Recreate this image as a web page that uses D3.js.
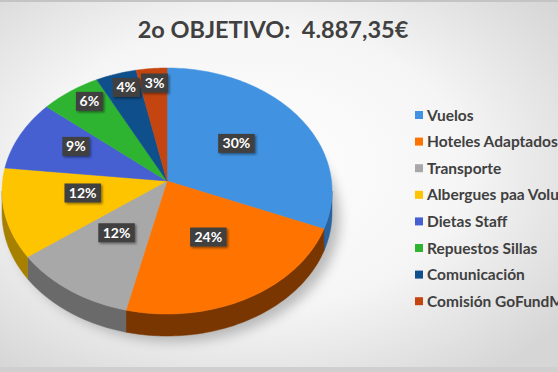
<!DOCTYPE html>
<html>
<head>
<meta charset="utf-8">
<script src="https://cdn.jsdelivr.net/npm/d3@7"></script>
<style>
  html, body { margin: 0; padding: 0; background: #fff; }
  #chart { width: 558px; height: 372px; overflow: hidden; }
  text { font-family: Lato, "Open Sans", sans-serif; }
</style>
</head>
<body>
<div id="chart"></div>
<script>
(function () {
  ///////////////////////////////////////////////////////////// ! Data
  const categories = [
    "Vuelos",
    "Hoteles Adaptados",
    "Transporte",
    "Albergues paa Voluntarios",
    "Dietas Staff",
    "Repuestos Sillas",
    "Comunicación",
    "Comisión GoFundMe",
  ];
  const percents = [30, 24, 12, 12, 9, 6, 4, 3];
  const topColors = ["#4192e0", "#ff7400", "#a8a8a8", "#ffc400", "#4660d2", "#2fb432", "#0f4f8c", "#c4450f"];
  const sideColors = ["#2a62a0", "#7a3600", "#6a6a6a", "#a88000", "#2c3d8c", "#1d7420", "#08325a", "#7a2a08"];
  const title = "2o OBJETIVO:  4.887,35€";

  ///////////////////////////////////////////////////////////// ! Setup
  const W = 558, H = 372;
  const cx = 167, cy = 191, rx = 165, ry = 123; // ellipse of the top face
  const apexY = 181; // where slices meet (perspective)
  const depth = 22;

  const svg = d3.select("#chart").append("svg")
    .attr("width", W).attr("height", H);

  const defs = svg.append("defs");
  const bg = defs.append("radialGradient").attr("id", "bg")
    .attr("cx", "45%").attr("cy", "45%").attr("r", "70%");
  bg.append("stop").attr("offset", "0%").attr("stop-color", "#ffffff");
  bg.append("stop").attr("offset", "55%").attr("stop-color", "#f5f5f5");
  bg.append("stop").attr("offset", "100%").attr("stop-color", "#d6d6d6");

  const blur = defs.append("filter").attr("id", "blur")
    .attr("x", "-20%").attr("y", "-20%").attr("width", "140%").attr("height", "140%");
  blur.append("feGaussianBlur").attr("stdDeviation", 6);

  const lblShadow = defs.append("filter").attr("id", "lblShadow")
    .attr("x", "-30%").attr("y", "-30%").attr("width", "160%").attr("height", "160%");
  lblShadow.append("feDropShadow").attr("dx", 1.5).attr("dy", 1.5)
    .attr("stdDeviation", 1.2).attr("flood-color", "#000").attr("flood-opacity", 0.45);

  // background
  svg.append("rect").attr("width", W).attr("height", H).attr("fill", "url(#bg)");
  svg.append("rect").attr("width", W).attr("height", 2).attr("fill", "#c4c4c4");
  svg.append("rect").attr("y", 367).attr("width", W).attr("height", 5).attr("fill", "#cfcfcf");

  // title
  svg.append("text")
    .attr("x", 273).attr("y", 38)
    .attr("text-anchor", "middle")
    .style("white-space", "pre")
    .style("font-size", "23.5px").style("font-weight", "bold")
    .attr("fill", "#404040")
    .text(title);

  ///////////////////////////////////////////////////////////// ! Pie geometry
  const data = categories.map((c, i) => ({ name: c, value: percents[i], i }));
  const arcs = d3.pie().sort(null).value((d) => d.value)(data);

  const rim = (a, dy = 0) => [cx + rx * Math.sin(a), cy - ry * Math.cos(a) + dy];
  const rimPts = (a0, a1, dy = 0) => {
    const n = Math.max(2, Math.ceil((a1 - a0) / 0.02));
    return d3.range(n + 1).map((k) => rim(a0 + (a1 - a0) * k / n, dy));
  };
  const line = d3.line();

  // drop shadow
  svg.append("ellipse")
    .attr("cx", cx + 8).attr("cy", cy + depth + 6)
    .attr("rx", rx).attr("ry", ry)
    .attr("fill", "#8a8a8a").attr("opacity", 0.55)
    .attr("filter", "url(#blur)");

  // side walls (front half only: PI/2 .. 3PI/2)
  const pieG = svg.append("g");
  arcs.forEach((d) => {
    const a0 = Math.max(d.startAngle, Math.PI / 2);
    const a1 = Math.min(d.endAngle, 3 * Math.PI / 2);
    if (a1 <= a0) return;
    const pts = rimPts(a0, a1).concat(rimPts(a0, a1, depth).reverse());
    pieG.append("path")
      .attr("d", line(pts) + "Z")
      .attr("fill", sideColors[d.data.i])
      .attr("stroke", sideColors[d.data.i]).attr("stroke-width", 0.5);
  });

  // top faces
  arcs.forEach((d) => {
    const pts = [[cx, apexY]].concat(rimPts(d.startAngle, d.endAngle));
    pieG.append("path")
      .attr("d", line(pts) + "Z")
      .attr("fill", topColors[d.data.i])
      .attr("stroke", topColors[d.data.i]).attr("stroke-width", 0.5);
  });

  ///////////////////////////////////////////////////////////// ! Labels
  const labelG = svg.append("g");
  arcs.forEach((d) => {
    const mid = (d.startAngle + d.endAngle) / 2;
    const f = d.value >= 12 ? 0.52 : d.value >= 9 ? 0.62 : 0.8;
    const x = cx + rx * Math.sin(mid) * f;
    const y = apexY - ry * Math.cos(mid) * f;
    const txt = d.value + "%";
    const g = labelG.append("g").attr("transform", `translate(${x},${y})`);
    const bw = txt.length * 9.5 + 8, bh = 19;
    g.append("rect")
      .attr("x", -bw / 2).attr("y", -bh / 2)
      .attr("width", bw).attr("height", bh)
      .attr("fill", "#404040")
      .attr("filter", "url(#lblShadow)");
    g.append("text")
      .attr("text-anchor", "middle").attr("dy", "0.36em")
      .style("font-size", "14px").style("font-weight", "bold")
      .attr("fill", "#ffffff")
      .text(txt);
  });

  ///////////////////////////////////////////////////////////// ! Legend
  const legend = svg.append("g").attr("transform", "translate(415,115)");
  categories.forEach((c, i) => {
    const row = legend.append("g").attr("transform", `translate(0,${i * 26.6})`);
    row.append("rect")
      .attr("x", 0).attr("y", -4).attr("width", 8).attr("height", 8)
      .attr("fill", topColors[i]);
    row.append("text")
      .attr("x", 12).attr("dy", "0.36em")
      .style("font-size", "15.5px").style("font-weight", "bold")
      .attr("fill", "#404040")
      .text(c);
  });
})();
</script>
</body>
</html>
